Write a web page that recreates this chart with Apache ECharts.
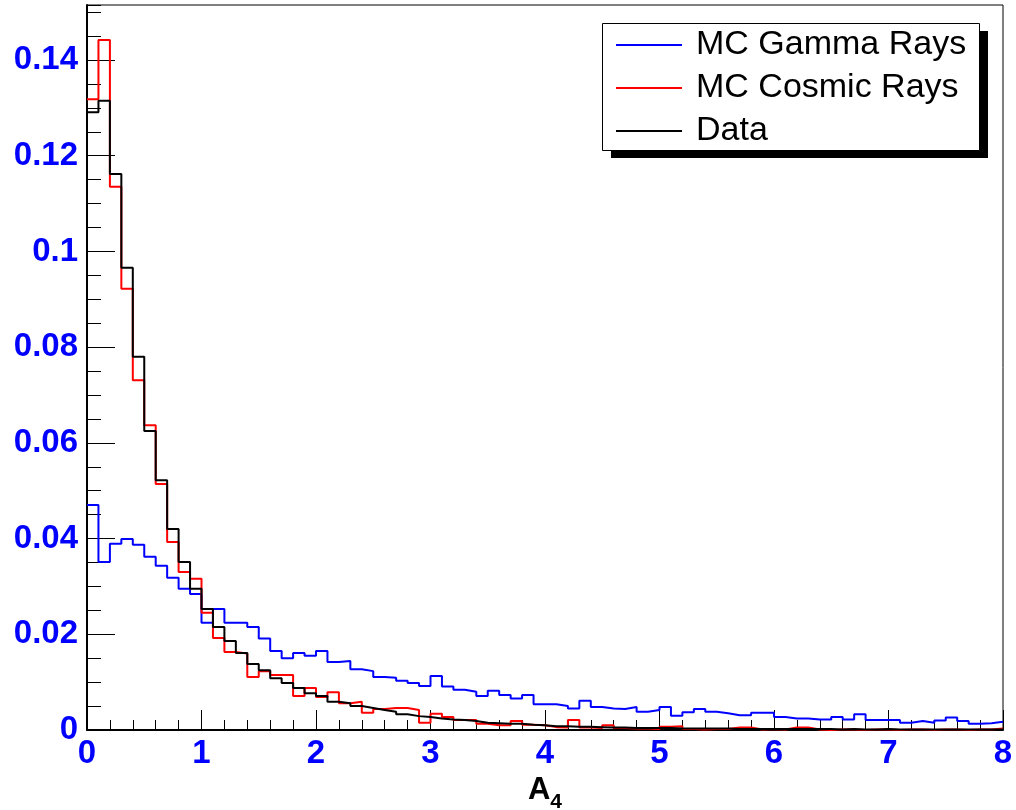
<!DOCTYPE html>
<html><head><meta charset="utf-8">
<script src="https://cdn.jsdelivr.net/npm/echarts@6/dist/echarts.min.js"></script>
<style>html,body{margin:0;padding:0;background:#fff}#c{width:1016px;height:810px}</style>
</head><body><div id="c"></div>
<script>
// Histogram binning: 80 bins of width 0.1 from 0 to 8
const binStart = 0;
const binWidth = 0.1;

const gammaMC = [
  0.0470, 0.0351, 0.0389, 0.0399, 0.0387, 0.0362, 0.0343, 0.0318, 0.0295, 0.0284,
  0.0224, 0.0253, 0.0224, 0.0224, 0.0215, 0.0191, 0.0165, 0.0150, 0.0161, 0.0155,
  0.0165, 0.0142, 0.0144, 0.0127, 0.0123, 0.0111, 0.0109, 0.0103, 0.0098, 0.0092,
  0.0113, 0.0091, 0.0084, 0.0080, 0.0071, 0.0082, 0.0073, 0.0066, 0.0073, 0.0054,
  0.0054, 0.0050, 0.0045, 0.0061, 0.0048, 0.0045, 0.0044, 0.0048, 0.0038, 0.0042,
  0.0048, 0.0030, 0.0037, 0.0044, 0.0038, 0.0035, 0.0031, 0.0031, 0.0036, 0.0036,
  0.0027, 0.0024, 0.0024, 0.0022, 0.0022, 0.0027, 0.0022, 0.0033, 0.0021, 0.0021,
  0.0021, 0.0015, 0.0019, 0.0015, 0.0020, 0.0026, 0.0019, 0.0013, 0.0014, 0.0017
];

const cosmicMC = [
  0.1318, 0.1442, 0.1135, 0.0922, 0.0731, 0.0637, 0.0514, 0.0393, 0.0330, 0.0316,
  0.0245, 0.0192, 0.0163, 0.0160, 0.0111, 0.0123, 0.0115, 0.0115, 0.0071, 0.0088,
  0.0069, 0.0079, 0.0056, 0.0059, 0.0036, 0.0044, 0.0046, 0.0046, 0.0042, 0.0015,
  0.0034, 0.0027, 0.0021, 0.0021, 0.0013, 0.0010, 0.0010, 0.0019, 0.0011, 0.0010,
  0.0006, 0.0005, 0.0021, 0.0005, 0.0004, 0.0010, 0.0004, 0.0003, 0.0003, 0.0002,
  0.0007, 0.0008, 0.0002, 0.0001, 0.0002, 0.0002, 0.0005, 0.0005, 0.0001, 0.0002,
  0.0001, 0.0005, 0.0005, 0.0001, 0.0000, 0.0001, 0.0001, 0.0000, 0.0001, 0.0001,
  0.0000, 0.0001, 0.0001, 0.0000, 0.0001, 0.0001, 0.0000, 0.0001, 0.0001, 0.0003
];

const dataHist = [
  0.1291, 0.1315, 0.1162, 0.0966, 0.0780, 0.0625, 0.0522, 0.0420, 0.0351, 0.0295,
  0.0253, 0.0215, 0.0186, 0.0161, 0.0138, 0.0125, 0.0108, 0.0098, 0.0088, 0.0077,
  0.0071, 0.0059, 0.0056, 0.0050, 0.0046, 0.0042, 0.0038, 0.0033, 0.0029, 0.0027,
  0.0024, 0.0022, 0.0021, 0.0019, 0.0015, 0.0014, 0.0013, 0.0013, 0.0011, 0.0010,
  0.0008, 0.0008, 0.0007, 0.0007, 0.0006, 0.0005, 0.0005, 0.0004, 0.0004, 0.0004,
  0.0004, 0.0003, 0.0003, 0.0003, 0.0003, 0.0003, 0.0002, 0.0002, 0.0002, 0.0002,
  0.0002, 0.0002, 0.0002, 0.0002, 0.0002, 0.0001, 0.0002, 0.0001, 0.0001, 0.0002,
  0.0001, 0.0001, 0.0001, 0.0001, 0.0001, 0.0001, 0.0001, 0.0001, 0.0001, 0.0001
];

const seriesNames = ['MC Gamma Rays', 'MC Cosmic Rays', 'Data'];
const seriesColors = ['#0000ff', '#ff0000', '#000000'];
const xAxisName = 'A';
const xAxisSub = '4';
const xMin = 0, xMax = 8, xStep = 1;
const yMin = 0, yMax = 0.1515, yStep = 0.02, yMinorStep = 0.005;

function toSteps(vals) {
  const pts = vals.map((v, i) => [+(binStart + i * binWidth).toFixed(3), v]);
  pts.push([+(binStart + vals.length * binWidth).toFixed(3), vals[vals.length - 1]]);
  return pts;
}

const allSeries = [gammaMC, cosmicMC, dataHist];
const FONT = 'Liberation Sans, Arial, Helvetica, sans-serif';

// legend frame (box with drop shadow), in pixels
const LEG = {x: 602, y: 23, w: 377, h: 127, shadow: 9};

const chart = echarts.init(document.getElementById('c'), null, {renderer: 'canvas'});
chart.setOption({
  animation: false,
  backgroundColor: '#ffffff',
  grid: [
    {left: 87, right: 13, top: 5, bottom: 80, show: true, borderColor: '#000', borderWidth: 1,
     backgroundColor: 'transparent', containLabel: false, outerBoundsMode: 'none'},
    {left: 87, right: 13, top: 5, bottom: 80, show: false, containLabel: false, outerBoundsMode: 'none'}
  ],
  xAxis: [
    {
      type: 'value', gridIndex: 0, min: xMin, max: xMax, interval: xStep,
      axisLine: {show: true, onZero: false, lineStyle: {color: '#000', width: 2}},
      axisTick: {show: true, inside: true, length: 20, lineStyle: {color: '#000', width: 1}},
      minorTick: {show: true, splitNumber: 5, length: 10, lineStyle: {color: '#000', width: 1}},
      splitLine: {show: false},
      axisLabel: {color: '#0000ff', fontFamily: FONT, fontWeight: 'bold', fontSize: 33, margin: 7,
        formatter: v => String(v)},
      name: '{a|' + xAxisName + '}{s|' + xAxisSub + '}',
      nameLocation: 'middle', nameGap: 43,
      nameTextStyle: {
        rich: {
          a: {fontFamily: FONT, fontWeight: 'bold', fontSize: 31, color: '#000', lineHeight: 31, verticalAlign: 'top'},
          s: {fontFamily: FONT, fontWeight: 'bold', fontSize: 21, color: '#000', lineHeight: 38, verticalAlign: 'bottom'}
        }
      }
    },
    {type: 'value', gridIndex: 1, min: xMin, max: xMax, show: false}
  ],
  yAxis: [
    {
      type: 'value', gridIndex: 0, min: yMin, max: yMax, interval: yStep,
      axisLine: {show: true, onZero: false, lineStyle: {color: '#000', width: 2}},
      axisTick: {show: true, inside: true, length: 28, lineStyle: {color: '#000', width: 1}},
      splitLine: {show: false},
      axisLabel: {
        color: '#0000ff', fontFamily: FONT, fontWeight: 'bold', fontSize: 33, margin: 9,
        showMaxLabel: false,
        formatter: v => {
          const k = Math.round(v / yStep);
          if (Math.abs(v - k * yStep) > 1e-9) return '';
          return k === 0 ? '0' : String(+(k * yStep).toFixed(2));
        }
      }
    },
    {
      type: 'value', gridIndex: 1, min: yMin, max: yMax, interval: yMinorStep,
      axisLine: {show: false},
      axisTick: {show: true, inside: true, length: 14, lineStyle: {color: '#000', width: 1}},
      axisLabel: {show: false},
      splitLine: {show: false}
    }
  ],
  graphic: [
    {type: 'rect', z: 10, silent: true,
     shape: {x: LEG.x + LEG.shadow, y: LEG.y + LEG.shadow - 1, width: LEG.w, height: LEG.h},
     style: {fill: '#000'}},
    {type: 'rect', z: 11, silent: true,
     shape: {x: LEG.x + 0.5, y: LEG.y + 0.5, width: LEG.w, height: LEG.h},
     style: {fill: '#fff', stroke: '#000', lineWidth: 1}}
  ],
  legend: {
    orient: 'vertical', left: LEG.x, top: LEG.y, z: 20,
    padding: [5, 11, 3, 14],
    itemGap: 9, itemWidth: 66, itemHeight: 2, icon: 'rect',
    backgroundColor: 'transparent', borderWidth: 0,
    textStyle: {fontFamily: FONT, fontSize: 34, color: '#000', lineHeight: 34, padding: [0, 0, 0, 9]},
    data: seriesNames
  },
  series: allSeries.map((vals, i) => ({
    name: seriesNames[i],
    type: 'line',
    step: 'end',
    xAxisIndex: 0, yAxisIndex: 0,
    symbol: 'none',
    color: seriesColors[i],
    lineStyle: {color: seriesColors[i], width: 2},
    itemStyle: {color: seriesColors[i]},
    data: toSteps(vals),
    z: 2 + i
  }))
});
</script>
</body></html>
